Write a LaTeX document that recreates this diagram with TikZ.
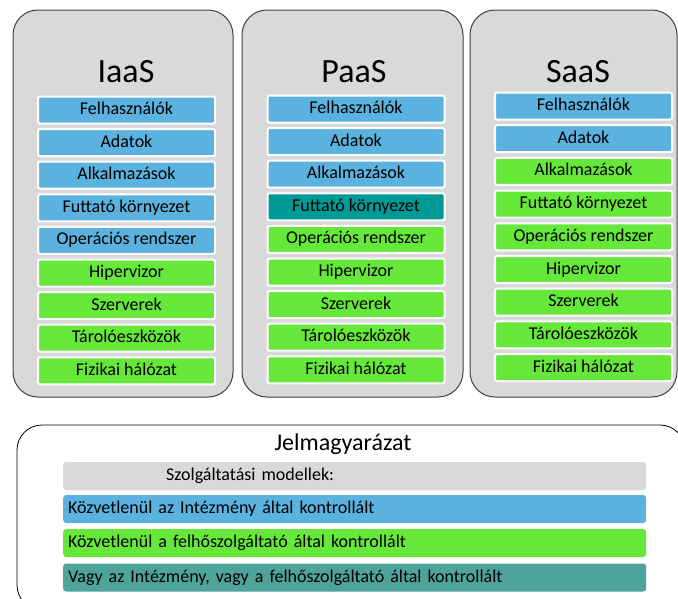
\documentclass[tikz,border=0pt]{standalone}
\usepackage{fontspec}
\setmainfont{Carlito}
\definecolor{panelgray}{HTML}{D9D9D9}
\definecolor{edgegray}{HTML}{404040}
\definecolor{ownblue}{HTML}{5BB2DE}
\definecolor{provgreen}{HTML}{66E83A}
\definecolor{mixteal}{HTML}{009A96}
\definecolor{legteal}{HTML}{4EA39B}
\tikzset{
    panel/.style={draw=edgegray, fill=panelgray, line width=1pt, rounded corners=25},
    modeltitle/.style={anchor=base, font=\fontsize{34}{40}\selectfont},
    layerbox/.style={draw=white, line width=2pt, rounded corners=2, minimum width=177,
        minimum height=27, inner sep=0pt, text height=12.5, text depth=3.5,
        font=\fontsize{18}{21}\selectfont},
    ownbox/.style={layerbox, fill=ownblue},
    provbox/.style={layerbox, fill=provgreen},
    sharedbox/.style={layerbox, fill=mixteal},
    legbar/.style={anchor=west, rounded corners=3, minimum height=28, text width=573,
        inner xsep=5, inner ysep=0pt, align=left, text height=12.5, text depth=3.5,
        font=\fontsize{18}{21}\selectfont}
}
\begin{document}
\begin{tikzpicture}[x=1pt,y=-1pt]
    \useasboundingbox (0,0) rectangle (678,598);
    \clip (0,0) rectangle (678,598);
    % IaaS
    \draw[panel] (13,10) rectangle (233,397);
    \node[modeltitle] (iaas) at (126,82) {IaaS};
    \node[ownbox] (i1) at (126.5,110) {Felhasználók};
    \node[ownbox] (i2) at (126.5,142.6) {Adatok};
    \node[ownbox] (i3) at (126.5,175.2) {Alkalmazások};
    \node[ownbox] (i4) at (126.5,207.8) {Futtató környezet};
    \node[ownbox] (i5) at (126.5,240.4) {Operációs rendszer};
    \node[provbox] (i6) at (126.5,273) {Hipervizor};
    \node[provbox] (i7) at (126.5,305.6) {Szerverek};
    \node[provbox] (i8) at (126.5,338.2) {Tárolóeszközök};
    \node[provbox] (i9) at (126.5,370.8) {Fizikai hálózat};
    % PaaS
    \draw[panel] (242,10) rectangle (463,397);
    \node[modeltitle] (paas) at (354,82) {PaaS};
    \node[ownbox] (p1) at (356,109) {Felhasználók};
    \node[ownbox] (p2) at (356,141.6) {Adatok};
    \node[ownbox] (p3) at (356,174.2) {Alkalmazások};
    \node[sharedbox] (p4) at (356,206.8) {Futtató környezet};
    \node[provbox] (p5) at (356,239.4) {Operációs rendszer};
    \node[provbox] (p6) at (356,272) {Hipervizor};
    \node[provbox] (p7) at (356,304.6) {Szerverek};
    \node[provbox] (p8) at (356,337.2) {Tárolóeszközök};
    \node[provbox] (p9) at (356,369.8) {Fizikai hálózat};
    % SaaS
    \draw[panel] (470,10) rectangle (677,397);
    \node[modeltitle] (saas) at (578,82) {SaaS};
    \node[ownbox] (s1) at (583.5,106) {Felhasználók};
    \node[ownbox] (s2) at (583.5,138.7) {Adatok};
    \node[provbox] (s3) at (583.5,171.4) {Alkalmazások};
    \node[provbox] (s4) at (583.5,204.1) {Futtató környezet};
    \node[provbox] (s5) at (583.5,236.8) {Operációs rendszer};
    \node[provbox] (s6) at (583.5,269.5) {Hipervizor};
    \node[provbox] (s7) at (583.5,302.2) {Szerverek};
    \node[provbox] (s8) at (583.5,334.9) {Tárolóeszközök};
    \node[provbox] (s9) at (583.5,367.6) {Fizikai hálózat};
    % legend
    \draw[line width=0.8pt, rounded corners=25] (17,425) rectangle (685,610);
    \node[anchor=base, font=\fontsize{24}{28}\selectfont] (jel) at (343,450) {Jelmagyarázat};
    \node[legbar, fill=panelgray] (lg0) at (63,476) {\hspace*{98pt}Szolgáltatási modellek:};
    \node[legbar, fill=ownblue] (lg1) at (63,509) {Közvetlenül az Intézmény által kontrollált};
    \node[legbar, fill=provgreen] (lg2) at (63,543) {Közvetlenül a felhőszolgáltató által kontrollált};
    \node[legbar, fill=legteal] (lg3) at (63,577.5) {Vagy az Intézmény, vagy a felhőszolgáltató által kontrollált};
\end{tikzpicture}
\end{document}
